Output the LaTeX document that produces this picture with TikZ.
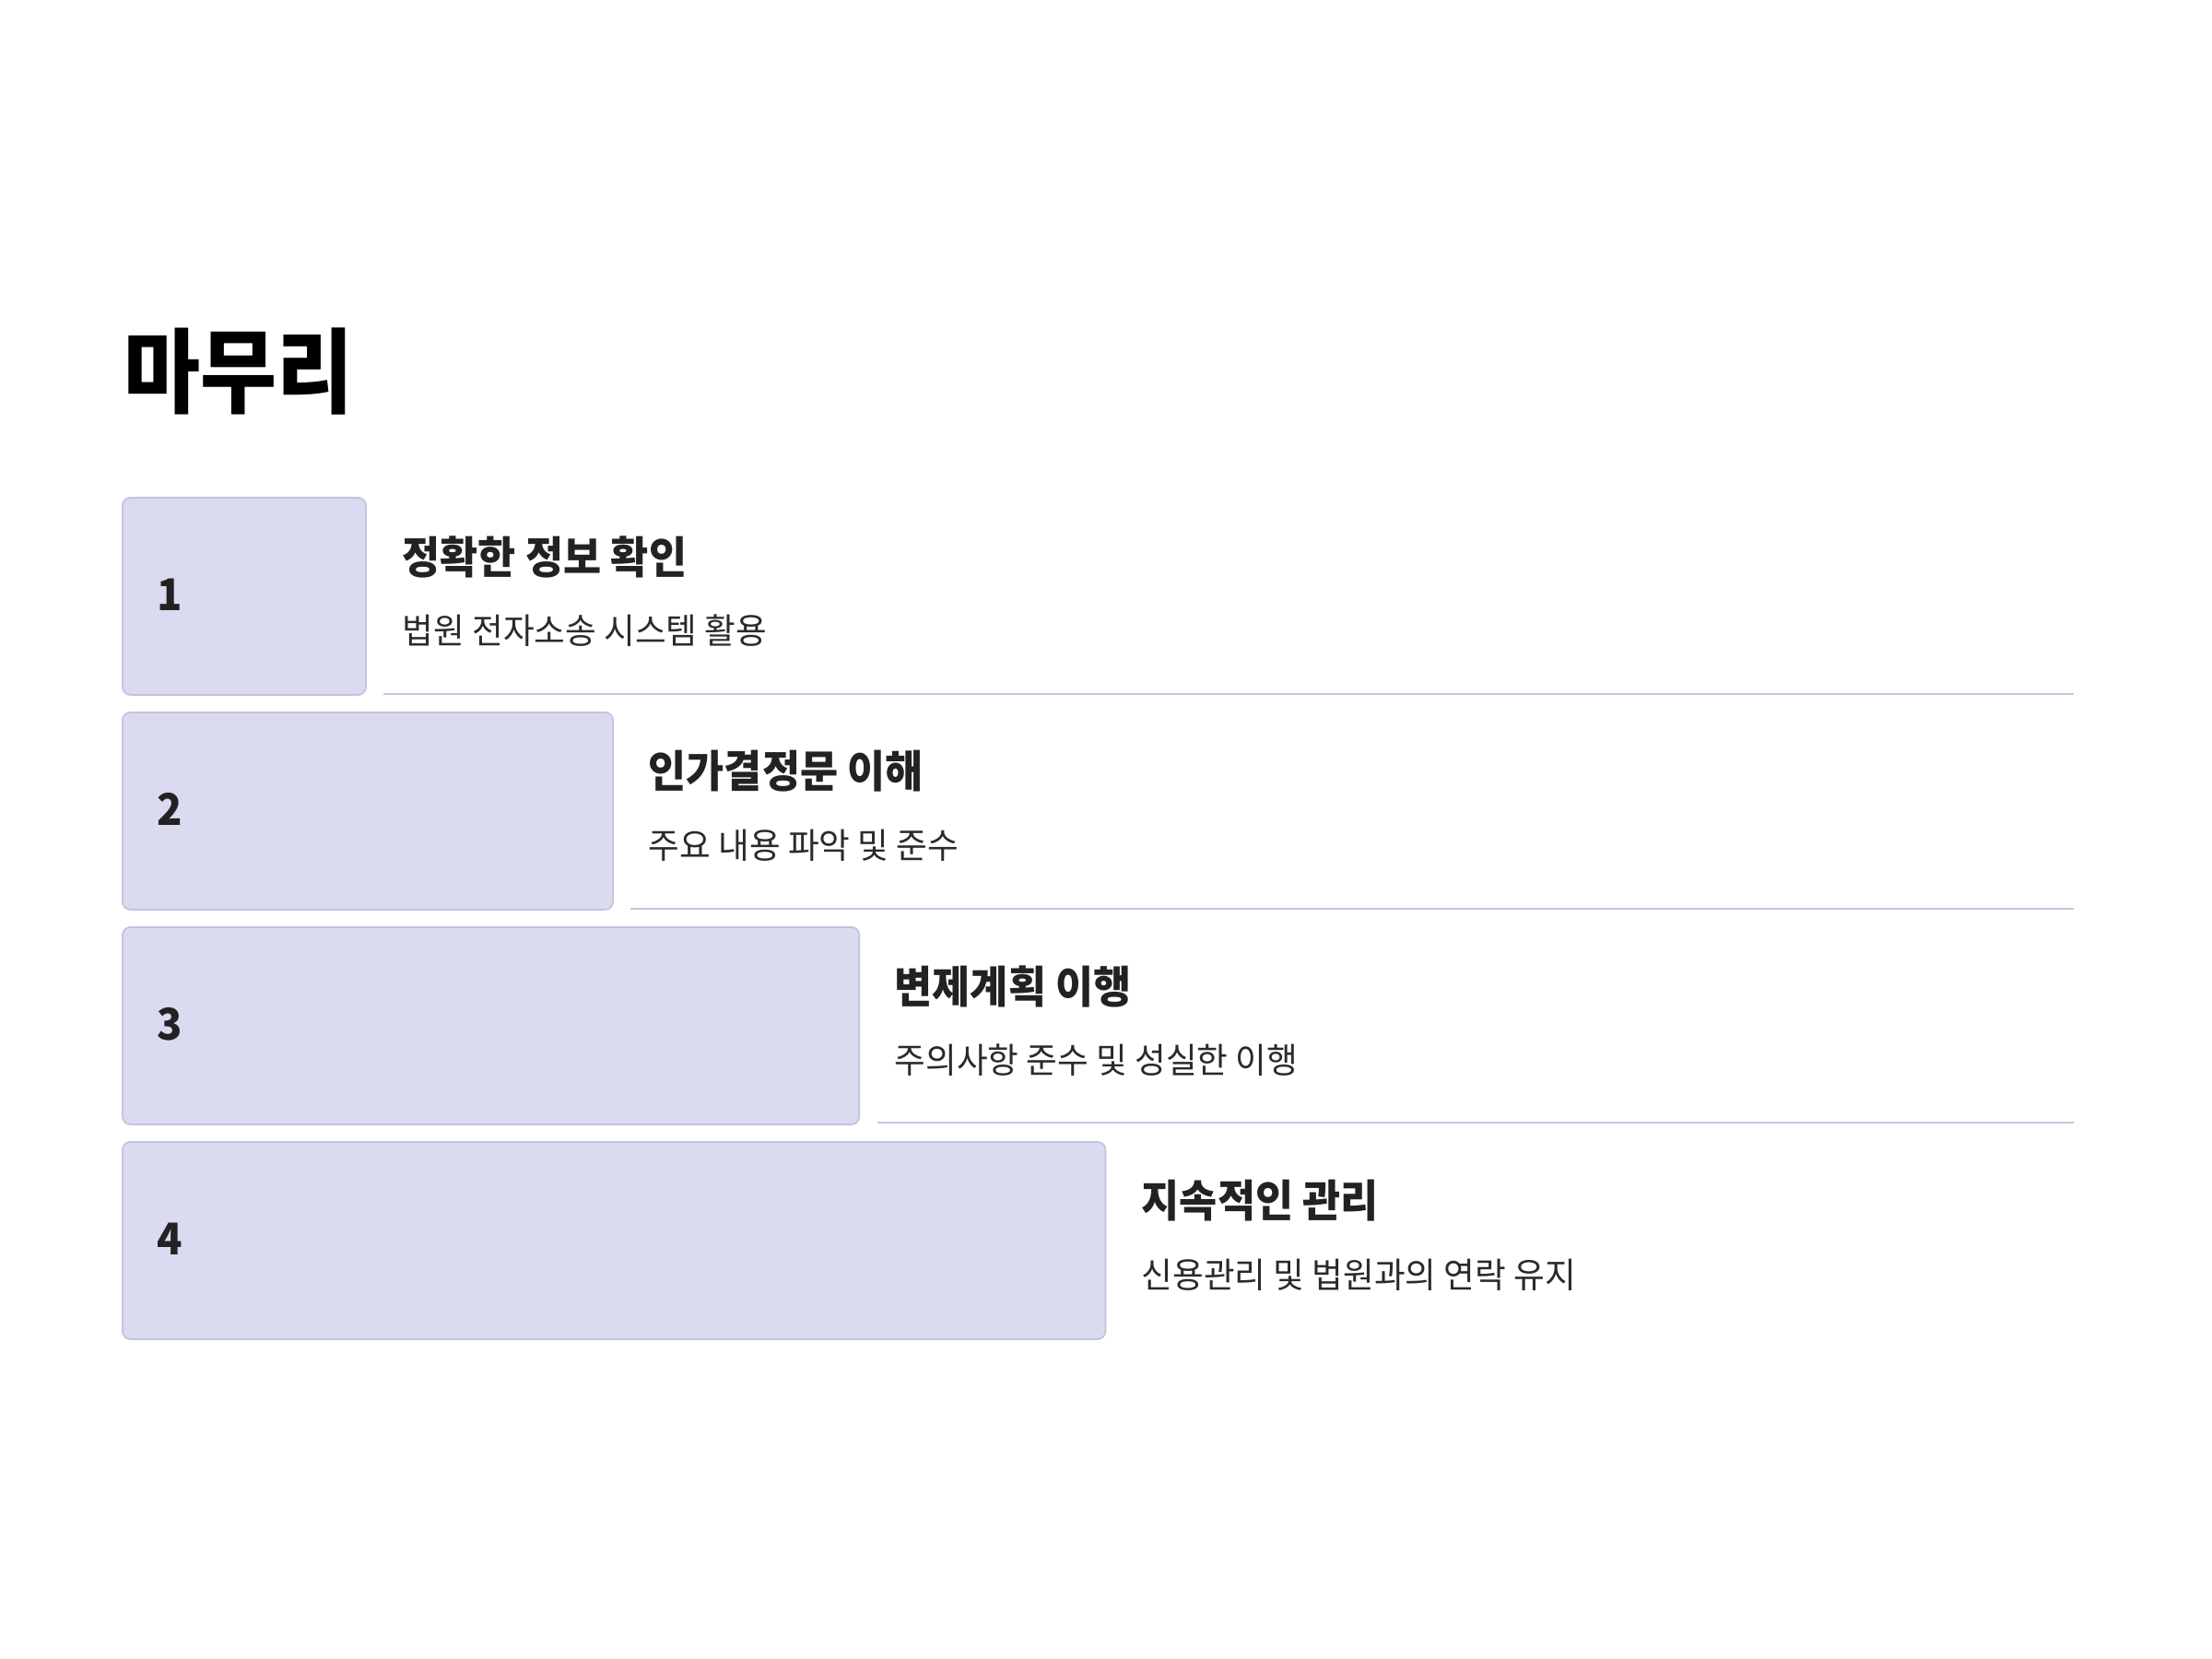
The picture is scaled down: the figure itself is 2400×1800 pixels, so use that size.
\documentclass[tikz,border=0pt]{standalone}
\usepackage{fontspec}
\newfontfamily\krtitle[FakeStretch=0.90]{Noto Sans CJK KR}
\newfontfamily\krhead[FakeStretch=0.935]{Noto Sans CJK KR}
\newfontfamily\krsub[FakeStretch=0.965]{Noto Sans CJK KR}
\newfontfamily\numfont[FakeStretch=0.95]{Noto Sans CJK KR}
\definecolor{boxfill}{HTML}{DADAF0}
\definecolor{boxline}{HTML}{C3C3DF}
\definecolor{sepline}{HTML}{C6C6E0}
\definecolor{headtxt}{HTML}{222222}
\definecolor{subtxt}{HTML}{2A2A2A}
\begin{document}
\begin{tikzpicture}[x=0.01cm,y=-0.01cm,
  stepbox/.style={draw=boxline, fill=boxfill, line width=0.5pt, rounded corners=2.5pt, anchor=north west, minimum height=2.14cm, inner sep=0pt},
  numtxt/.style={anchor=west, inner sep=0pt, font=\numfont\bfseries\fontsize{13.5}{16}\selectfont, text=headtxt},
  headtext/.style={anchor=west, inner sep=0pt, font=\krhead\bfseries\fontsize{13.6}{16}\selectfont, text=headtxt},
  subtext/.style={anchor=west, inner sep=0pt, font=\krsub\fontsize{10.8}{13}\selectfont, text=subtxt},
  sep/.style={draw=sepline, line width=0.6pt}]
\useasboundingbox[fill=white] (0,0) rectangle (2400,1800);

\node[anchor=west, inner sep=0pt, font=\krtitle\bfseries\fontsize{28.5}{34}\selectfont] (title) at (134,403) {마무리};

% row 1
\node[stepbox, minimum width=2.64cm] (b1) at (132,539) {};
\node[numtxt] (n1) at (170,645) {1};
\node[headtext] (h1) at (436,604) {정확한 정보 확인};
\node[subtext] (s1) at (436,684) {법원 전자소송 시스템 활용};
\coordinate (l1a) at (416,753);
\coordinate (l1b) at (2250,753);
\draw[sep] (l1a) -- (l1b);

% row 2
\node[stepbox, minimum width=5.32cm] (b2) at (132,772) {};
\node[numtxt] (n2) at (170,878) {2};
\node[headtext] (h2) at (703,837) {인가결정문 이해};
\node[subtext] (s2) at (703,917) {주요 내용 파악 및 준수};
\coordinate (l2a) at (684,986);
\coordinate (l2b) at (2250,986);
\draw[sep] (l2a) -- (l2b);

% row 3
\node[stepbox, minimum width=7.99cm] (b3) at (132,1005) {};
\node[numtxt] (n3) at (170,1111) {3};
\node[headtext] (h3) at (970,1070) {변제계획 이행};
\node[subtext] (s3) at (970,1150) {주의사항 준수 및 성실한 이행};
\coordinate (l3a) at (952,1218);
\coordinate (l3b) at (2250,1218);
\draw[sep] (l3a) -- (l3b);

% row 4
\node[stepbox, minimum width=10.66cm] (b4) at (132,1238) {};
\node[numtxt] (n4) at (170,1344) {4};
\node[headtext] (h4) at (1238,1303) {지속적인 관리};
\node[subtext] (s4) at (1238,1383) {신용관리 및 법원과의 연락 유지};
\end{tikzpicture}
\end{document}
